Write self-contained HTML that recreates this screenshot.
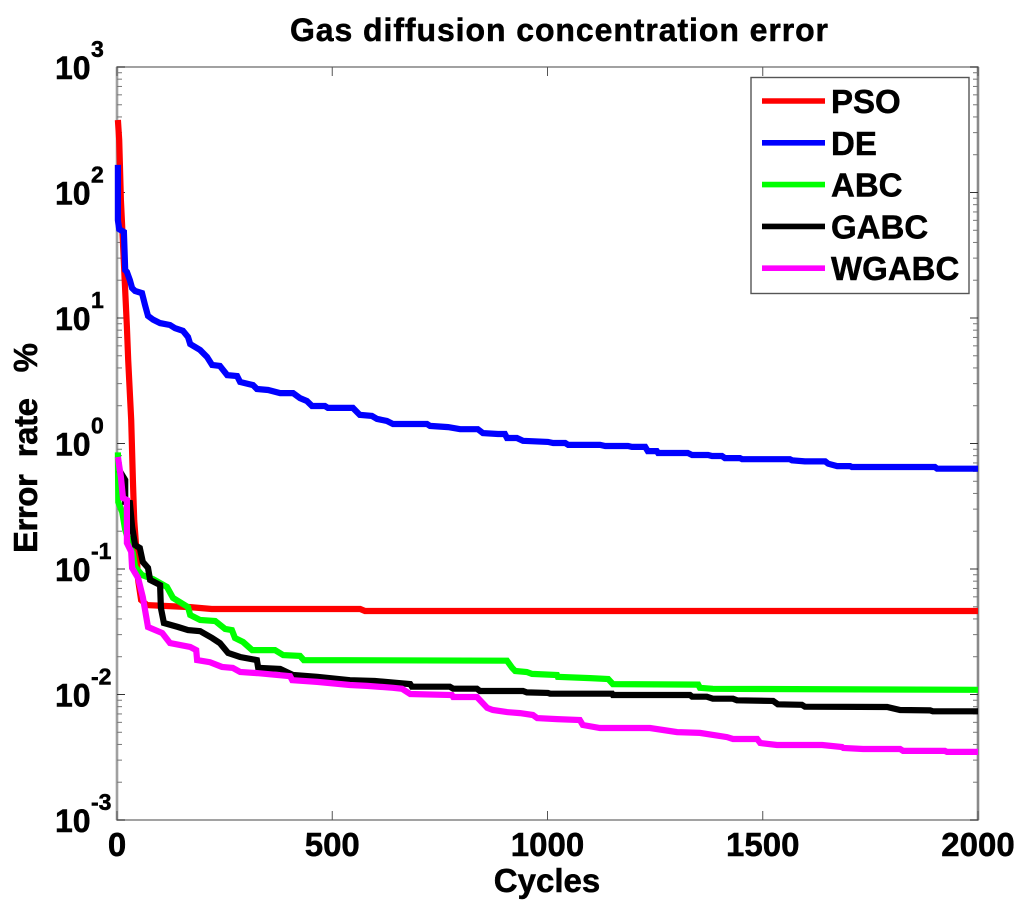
<!DOCTYPE html>
<html lang="en">
<head>
<meta charset="utf-8">
<title>Gas diffusion concentration error</title>
<style>
  html, body { margin: 0; padding: 0; background: #fff; }
  svg { display: block; }
  text { font-family: "Liberation Sans", Arial, sans-serif; font-weight: bold; fill: #000; stroke: #000; stroke-width: 0.5; white-space: pre; }
</style>
</head>
<body>
<svg id="chart" xmlns="http://www.w3.org/2000/svg" width="1024" height="908" viewBox="0 0 1024 908">
  <rect x="0" y="0" width="1024" height="908" fill="#fff"/>
  <text x="290" y="41" font-size="32" textLength="538" lengthAdjust="spacing">Gas diffusion concentration error</text>
  <text x="547" y="892" font-size="33" text-anchor="middle">Cycles</text>
  <text transform="translate(37,553) rotate(-90)" font-size="33" textLength="210" lengthAdjust="spacing">Error  rate   %</text>
  <g id="axes"></g>
  <g id="series"></g>
  <g id="legend"></g>
</svg>
<script>
var xTicks = [0, 500, 1000, 1500, 2000];
var yExponents = [3, 2, 1, 0, -1, -2, -3];
var minorMultipliers = [2, 3, 4, 5, 6, 7, 8, 9];

var seriesNames = ['PSO', 'DE', 'ABC', 'GABC', 'WGABC'];
var seriesColors = ['#ff0000', '#0000ff', '#00ff00', '#000000', '#ff00ff'];

var psoCycles = [2, 5, 9, 12, 23, 26, 33, 37, 40, 44, 49, 56, 70, 170, 220, 565, 576, 2000];
var psoValues = [378, 262, 87, 53, 8.5, 4.6, 1.54, 0.51, 0.245, 0.161, 0.082, 0.0566, 0.0516, 0.0497, 0.048, 0.048, 0.0463, 0.0463];

var deCycles = [2, 2, 5, 16, 19, 23, 30, 35, 42, 58, 65, 72, 84, 100, 123, 135, 153, 165, 170, 193, 209, 221, 239, 256, 279, 286, 316, 325, 351, 379, 409, 425, 441, 453, 483, 490, 548, 564, 592, 604, 627, 641, 720, 727, 769, 797, 838, 850, 885, 901, 906, 929, 943, 1001, 1013, 1041, 1048, 1122, 1134, 1187, 1196, 1227, 1233, 1254, 1257, 1326, 1336, 1373, 1382, 1405, 1412, 1447, 1452, 1563, 1568, 1598, 1645, 1652, 1673, 1703, 1707, 1900, 1905, 2000];
var deValues = [166, 60, 51, 48.5, 24.1, 23.3, 20, 17.3, 16.4, 15.8, 12.7, 10.4, 9.7, 9.1, 8.8, 8.3, 7.9, 7.06, 6.2, 5.56, 4.9, 4.22, 4.15, 3.51, 3.45, 3.09, 2.92, 2.72, 2.67, 2.52, 2.52, 2.3, 2.18, 1.99, 1.99, 1.92, 1.92, 1.69, 1.66, 1.57, 1.51, 1.43, 1.43, 1.38, 1.35, 1.3, 1.3, 1.21, 1.19, 1.19, 1.106, 1.106, 1.05, 1.03, 1.01, 1.01, 0.975, 0.975, 0.955, 0.955, 0.94, 0.94, 0.87, 0.87, 0.84, 0.84, 0.81, 0.81, 0.795, 0.795, 0.765, 0.765, 0.75, 0.75, 0.735, 0.72, 0.72, 0.69, 0.66, 0.66, 0.65, 0.65, 0.63, 0.63];

var abcCycles = [2, 3, 12, 19, 30, 37, 42, 58, 84, 116, 130, 165, 170, 193, 228, 251, 267, 274, 293, 314, 367, 386, 425, 434, 906, 918, 925, 952, 964, 1022, 1024, 1099, 1141, 1152, 1350, 1354, 1384, 2000];
var abcValues = [0.85, 0.34, 0.285, 0.205, 0.155, 0.134, 0.104, 0.0895, 0.083, 0.072, 0.0588, 0.0497, 0.043, 0.0392, 0.0385, 0.0333, 0.0326, 0.0282, 0.0262, 0.0226, 0.0226, 0.0206, 0.0203, 0.0188, 0.0186, 0.0163, 0.0154, 0.0151, 0.0146, 0.0143, 0.0138, 0.0135, 0.0133, 0.0121, 0.012, 0.0113, 0.0111, 0.0109];

var gabcCycles = [5, 19, 19, 30, 35, 42, 53, 60, 72, 77, 100, 102, 109, 142, 165, 193, 221, 239, 258, 286, 325, 328, 379, 409, 465, 541, 599, 681, 685, 773, 781, 836, 843, 943, 952, 1001, 1006, 1150, 1152, 1331, 1336, 1370, 1384, 1431, 1440, 1524, 1535, 1591, 1598, 1789, 1819, 1889, 1895, 2000];
var gabcValues = [0.614, 0.512, 0.342, 0.336, 0.216, 0.155, 0.147, 0.114, 0.102, 0.0818, 0.0745, 0.0489, 0.0371, 0.0345, 0.0326, 0.032, 0.0282, 0.0257, 0.0214, 0.0199, 0.0188, 0.0163, 0.016, 0.0143, 0.0138, 0.013, 0.0128, 0.0121, 0.01154, 0.01154, 0.01112, 0.01112, 0.01066, 0.01066, 0.0104, 0.0103, 0.01015, 0.01015, 0.00991, 0.00991, 0.0096, 0.0096, 0.00925, 0.00925, 0.00899, 0.0089, 0.00835, 0.00828, 0.00799, 0.00795, 0.00752, 0.00747, 0.00735, 0.00735];

var wgabcCycles = [2, 9, 14, 23, 23, 33, 35, 49, 60, 72, 105, 123, 170, 184, 186, 216, 244, 269, 286, 325, 402, 407, 465, 541, 581, 641, 662, 681, 778, 781, 836, 860, 873, 906, 936, 966, 976, 1022, 1075, 1082, 1122, 1238, 1301, 1354, 1417, 1431, 1487, 1494, 1533, 1638, 1684, 1687, 1733, 1819, 1826, 1923, 1928, 2000];
var wgabcValues = [0.78, 0.541, 0.368, 0.355, 0.161, 0.137, 0.102, 0.0847, 0.0598, 0.0345, 0.0309, 0.0257, 0.0239, 0.0226, 0.0188, 0.0181, 0.0166, 0.0163, 0.0151, 0.0148, 0.014, 0.013, 0.0126, 0.0119, 0.0117, 0.0113, 0.0111, 0.0101, 0.00991, 0.00955, 0.00955, 0.00782, 0.00752, 0.00724, 0.00711, 0.00686, 0.00649, 0.00637, 0.00626, 0.00571, 0.00541, 0.00541, 0.00502, 0.00494, 0.00458, 0.00442, 0.00442, 0.00411, 0.00396, 0.00396, 0.00382, 0.00375, 0.00368, 0.00368, 0.00355, 0.00355, 0.00349, 0.00349];

var seriesCycles = [psoCycles, deCycles, abcCycles, gabcCycles, wgabcCycles];
var seriesValues = [psoValues, deValues, abcValues, gabcValues, wgabcValues];

var SVG_NS = 'http://www.w3.org/2000/svg';
var plotLeft = 117, plotRight = 978, plotTop = 67, plotBottom = 820;
var xMax = 2000, logTop = 3, logBottom = -3;

function xScale(c) {
  return plotLeft + (c / xMax) * (plotRight - plotLeft);
}
function yScale(v) {
  return plotTop + (logTop - Math.log10(v)) / (logTop - logBottom) * (plotBottom - plotTop);
}
function make(tag, attrs, parent, txt) {
  var el = document.createElementNS(SVG_NS, tag);
  for (var k in attrs) el.setAttribute(k, attrs[k]);
  if (txt !== undefined) el.textContent = txt;
  parent.appendChild(el);
  return el;
}

var axes = document.getElementById('axes');
var seriesGroup = document.getElementById('series');
var legend = document.getElementById('legend');

var frame = make('rect', {x: plotLeft, y: plotTop, width: plotRight - plotLeft, height: plotBottom - plotTop, fill: 'none', stroke: '#8a8a8a', 'stroke-width': 1.6}, axes);



var leftSpine = make('line', {x1: plotLeft, x2: plotLeft, y1: plotTop, y2: plotBottom, stroke: '#a0a0a0', 'stroke-width': 2.6}, axes);



var rightSpine = make('line', {x1: plotRight, x2: plotRight, y1: plotTop, y2: plotBottom, stroke: '#8a8a8a', 'stroke-width': 2.6}, axes);



xTicks.forEach(function (t) {
  var x = xScale(t);
  var bottomTick = make('line', {x1: x, x2: x, y1: plotBottom, y2: plotBottom - 9, stroke: '#555', 'stroke-width': 1}, axes);
  
  
  var topTick = make('line', {x1: x, x2: x, y1: plotTop, y2: plotTop + 9, stroke: '#555', 'stroke-width': 1}, axes);
  
  
  var label = make('text', {x: x, y: 856, 'font-size': 33, 'text-anchor': 'middle'}, axes, String(t));
  
  
});

yExponents.forEach(function (e) {
  var y = yScale(Math.pow(10, e));
  var tickL = make('line', {x1: plotLeft, x2: plotLeft + 8, y1: y, y2: y, stroke: '#333', 'stroke-width': 1}, axes);
  
  
  var tickR = make('line', {x1: plotRight, x2: plotRight - 8, y1: y, y2: y, stroke: '#333', 'stroke-width': 1}, axes);
  
  
  var base = make('text', {x: 55, y: y + 12, 'font-size': 32}, axes, '10');
  
  
  var exp = make('text', {x: 91, y: y - 10, 'font-size': 23}, axes, String(e));
  
  
  if (e > logBottom) {
    minorMultipliers.forEach(function (m) {
      var my = yScale(m * Math.pow(10, e - 1));
      var minorL = make('line', {x1: plotLeft, x2: plotLeft + 5, y1: my, y2: my, stroke: '#777', 'stroke-width': 1}, axes);
      
      
      var minorR = make('line', {x1: plotRight, x2: plotRight - 5, y1: my, y2: my, stroke: '#777', 'stroke-width': 1}, axes);
      
      
    });
  }
});

seriesNames.forEach(function (name, i) {
  var pts = seriesCycles[i].map(function (c, j) {
    return xScale(c).toFixed(1) + ',' + yScale(seriesValues[i][j]).toFixed(1);
  }).join(' ');
  var line = make('polyline', {points: pts, fill: 'none', stroke: seriesColors[i], 'stroke-width': 6.2, 'stroke-linejoin': 'miter'}, seriesGroup);
  
  
});

var legendBox = make('rect', {x: 751, y: 77.5, width: 218, height: 216, fill: '#fff', stroke: '#555', 'stroke-width': 1.4}, legend);



var legendRow = 101, legendStep = 41.8;
seriesNames.forEach(function (name, i) {
  var y = legendRow + legendStep * i;
  var swatch = make('line', {x1: 762, x2: 825, y1: y, y2: y, stroke: seriesColors[i], 'stroke-width': 5.6}, legend);
  
  
  var label = make('text', {x: 831, y: y + 12, 'font-size': 33}, legend, name);
  
  
});
</script>
</body>
</html>
